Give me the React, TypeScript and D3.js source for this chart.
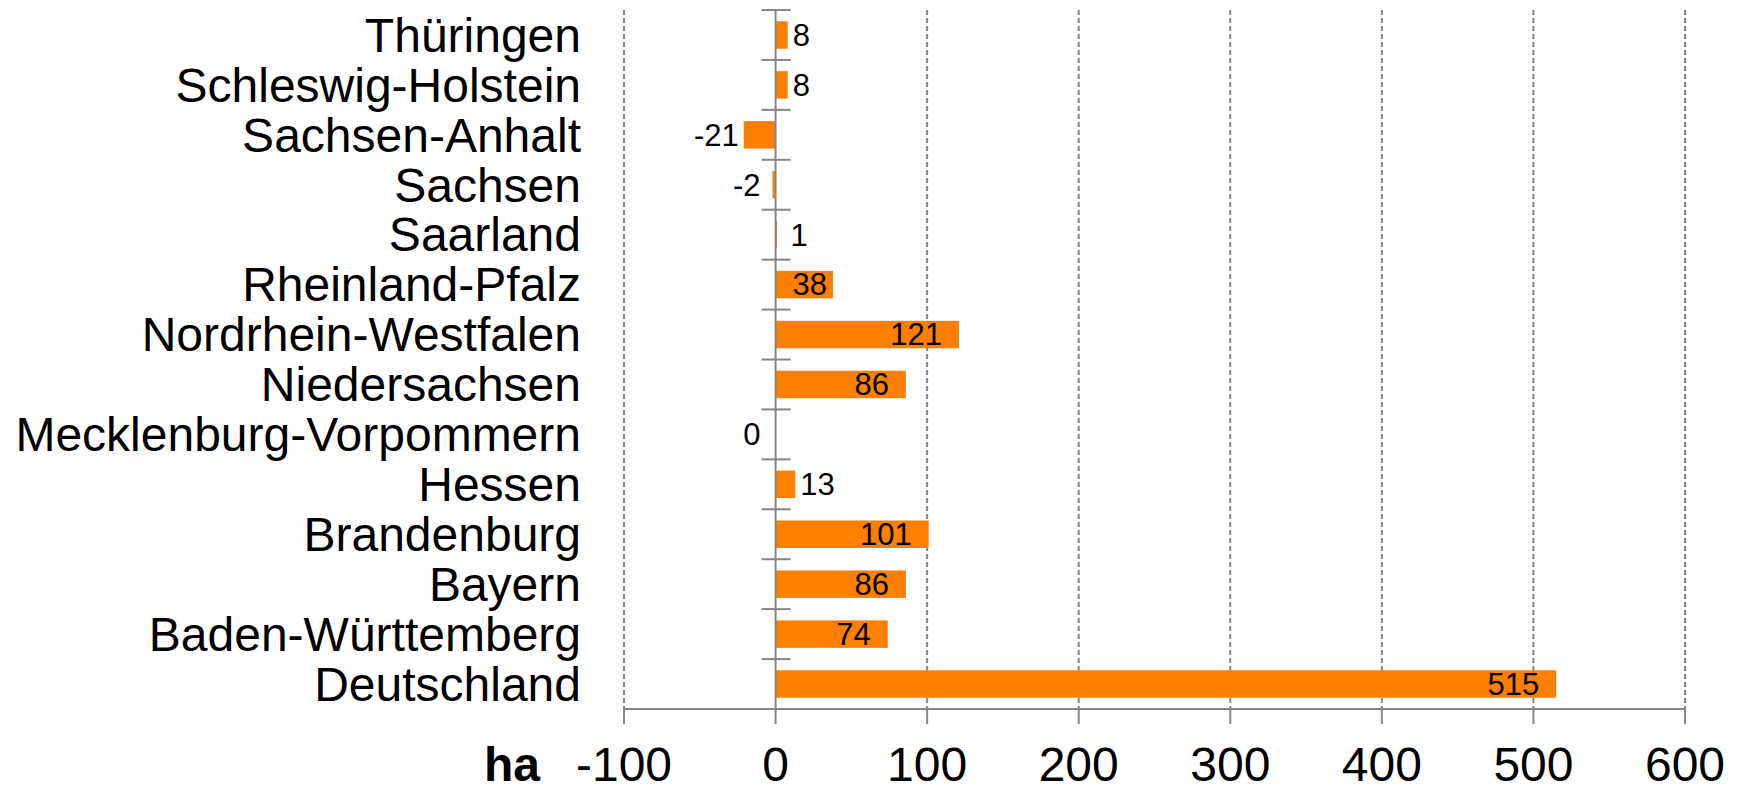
import React from "react";
import * as d3 from "d3";

// Flächenänderung je Bundesland (ha)
const regions = [
  "Thüringen",
  "Schleswig-Holstein",
  "Sachsen-Anhalt",
  "Sachsen",
  "Saarland",
  "Rheinland-Pfalz",
  "Nordrhein-Westfalen",
  "Niedersachsen",
  "Mecklenburg-Vorpommern",
  "Hessen",
  "Brandenburg",
  "Bayern",
  "Baden-Württemberg",
  "Deutschland",
];
const values = [8, 8, -21, -2, 1, 38, 121, 86, 0, 13, 101, 86, 74, 515];
const xTicks = [-100, 0, 100, 200, 300, 400, 500, 600];
const axisTitle = "ha";

const width = 1737;
const height = 787;
const font = "'Liberation Sans', Arial, Helvetica, sans-serif";
const gray = "#868686";
const orange = "#ff7f00";

const App = () => {
  // x scale: values to pixels
  const x = d3.scaleLinear().domain([-100, 600]).range([624, 1685]);
  // y scale: one band per region
  const y = d3
    .scaleBand()
    .domain(regions)
    .range([10, 709])
    .paddingInner(0.45)
    .paddingOuter(0.225);

  const x0 = x(0);
  const step = y.step();
  const top = 10;
  const bottom = 709;
  const labelSize = 31;

  return (
    <svg
      width={width}
      height={height}
      style={{ position: "absolute", left: 0, top: 0, background: "#fff" }}
    >
      {/* Gridlines */}
      {xTicks
        .filter((t) => t !== 0)
        .map((t) => (
          <line
            key={"g" + t}
            x1={x(t)}
            x2={x(t)}
            y1={top}
            y2={bottom}
            stroke={gray}
            strokeWidth={2}
            strokeDasharray="5,3"
          />
        ))}

      {/* Bars */}
      {regions.map((r, i) => {
        const v = values[i];
        return (
          <rect
            key={r}
            x={Math.min(x(v), x0)}
            y={y(r)}
            width={Math.abs(x(v) - x0)}
            height={y.bandwidth()}
            fill={orange}
          />
        );
      })}

      {/* Category axis */}
      <line x1={x0} x2={x0} y1={top} y2={bottom} stroke={gray} strokeWidth={2} />
      {d3.range(regions.length + 1).map((i) => (
        <line
          key={"t" + i}
          x1={x0 - 14}
          x2={x0 + 15}
          y1={top + i * step}
          y2={top + i * step}
          stroke={gray}
          strokeWidth={2}
        />
      ))}

      {/* Value axis */}
      <line x1={x(-100)} x2={x(600)} y1={bottom} y2={bottom} stroke={gray} strokeWidth={2} />
      {xTicks.map((t) => (
        <g key={"x" + t} transform={`translate(${x(t)}, ${bottom})`}>
          <line y2={15} stroke={gray} strokeWidth={2} />
          <text
            y={72}
            textAnchor="middle"
            fontSize={48}
            fontFamily={font}
            fill="#000"
          >
            {t}
          </text>
        </g>
      ))}
      <text x={484} y={781} fontSize={48} fontWeight="bold" fontFamily={font} fill="#000">
        {axisTitle}
      </text>

      {/* Category labels */}
      {regions.map((r) => (
        <text
          key={"l" + r}
          x={581}
          y={(y(r) as number) + y.bandwidth() / 2}
          dy="0.35em"
          textAnchor="end"
          fontSize={48}
          fontFamily={font}
          fill="#000"
        >
          {r}
        </text>
      ))}

      {/* Data labels */}
      {regions.map((r, i) => {
        const v = values[i];
        const label = String(v);
        const lw = label.length * 0.556 * labelSize;
        const end = x(v);
        const cy = (y(r) as number) + y.bandwidth() / 2;
        let lx;
        let anchor;
        if (v > 0 && Math.abs(end - x0) > lw + 10) {
          lx = Math.max(end - 17, x0 + lw + 17);
          anchor = "end";
        } else if (v > 0) {
          lx = Math.max(end, x0 + 10) + 5;
          anchor = "start";
        } else {
          lx = Math.min(end, x0 - 10) - 5;
          anchor = "end";
        }
        return (
          <text
            key={"v" + r}
            x={lx}
            y={cy}
            dy="0.35em"
            textAnchor={anchor}
            fontSize={labelSize}
            fontFamily={font}
            fill="#000"
          >
            {label}
          </text>
        );
      })}
    </svg>
  );
};

export default App;
